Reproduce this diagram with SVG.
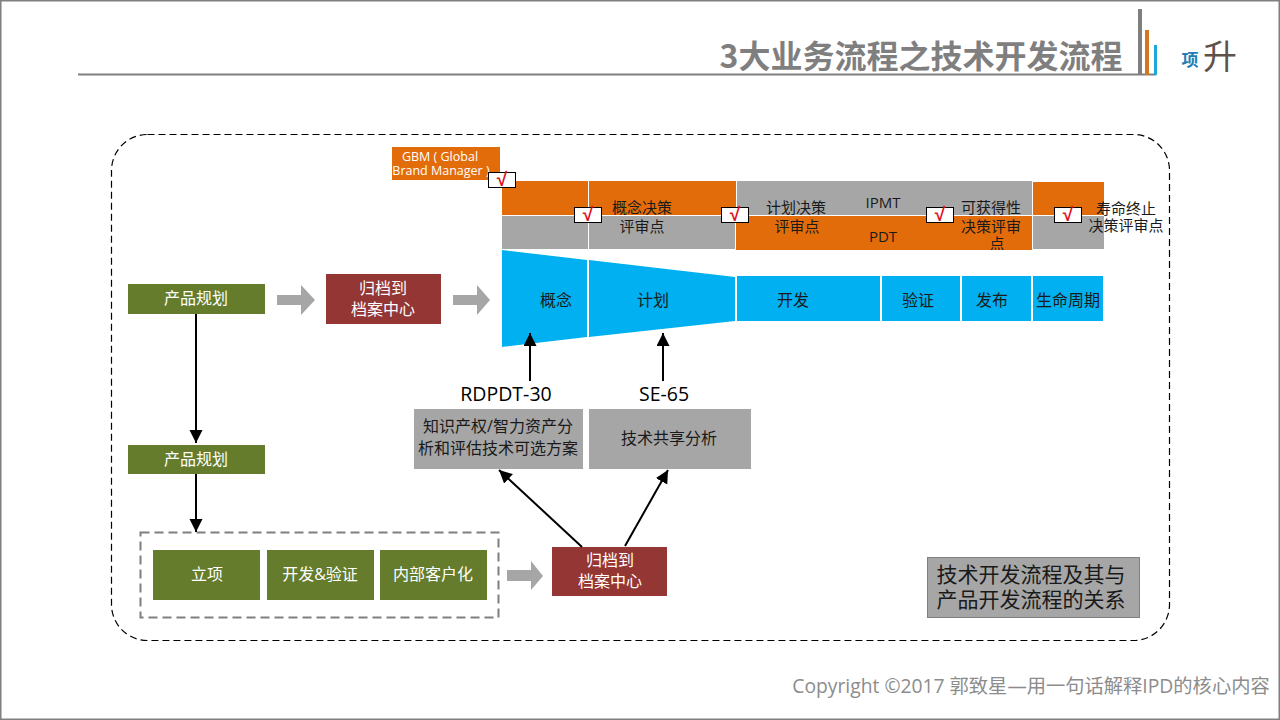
<svg xmlns="http://www.w3.org/2000/svg" width="1280" height="720" viewBox="0 0 1280 720">
<style>
text{font-family:"Open Sans","Noto Sans CJK SC",sans-serif;text-anchor:middle}
.cjk{font-family:"Noto Sans CJK SC",sans-serif}
.w{fill:#fff;font-size:16px}
.k{fill:#1a1a1a;font-size:16px}
.b{fill:#1a1a1a;font-size:15px}
.s{fill:#fff;font-size:12.500px}
.green{fill:#647c2b}
.red{fill:#943634}
.org{fill:#e36c0a}
.gray{fill:#a6a6a6}
.blue{fill:#00b0f0}
.chk{fill:#fff;stroke:#000;stroke-width:1}
.tick{fill:#e01020;font-size:19px;font-weight:bold;font-family:"Liberation Sans",sans-serif}
.conn{stroke:#000;stroke-width:2;fill:none;marker-end:url(#ah)}
</style>
<defs>
<marker id="ah" markerUnits="userSpaceOnUse" markerWidth="14" markerHeight="14" refX="13" refY="6.5" orient="auto"><path d="M0 0L13 6.500L0 13Z" fill="#000"/></marker>
<clipPath id="cut"><rect x="980" y="230" width="40" height="20"/></clipPath>
</defs>
<rect width="1280" height="720" fill="#fff"/>
<rect x="0.500" y="0.500" width="1279" height="719" fill="none" stroke="#7f7f7f" stroke-width="2"/>

<g id="header">
<text class="cjk" x="921" y="68" font-size="32" font-weight="700" fill="#7f7f7f">3大业务流程之技术开发流程</text>
<line x1="78" y1="74.500" x2="1156" y2="74.500" stroke="#7f7f7f" stroke-width="2"/>
<rect x="1138" y="9" width="4" height="66" fill="#7f7f7f"/>
<rect x="1145" y="30" width="4" height="45" fill="#d4761e"/>
<rect x="1154" y="45" width="3" height="30" fill="#1fa7dc"/>
<text class="cjk" x="1190" y="66" font-size="17" font-weight="700" fill="#1f7fb5">项</text>
<text class="cjk" x="1220" y="69" font-size="34" fill="#5f524a">升</text>
</g>

<rect id="frame" x="111.500" y="134.500" width="1058" height="506" rx="36" fill="none" stroke="#000" stroke-width="1.200" stroke-dasharray="7 4"/>

<g id="gbm"><rect class="org" x="392" y="147" width="108" height="33"/><text class="s" x="440" y="161">GBM ( Global</text><text class="s" x="441" y="175">Brand Manager )</text></g>

<g id="band-concept">
<rect class="org" x="502" y="181" width="86" height="34"/><rect class="org" x="589" y="181" width="147" height="34"/>
<rect class="gray" x="502" y="216" width="86" height="33"/><rect class="gray" x="589" y="216" width="146" height="33"/>
<text class="b" x="642" y="213">概念决策</text><text class="b" x="642" y="232">评审点</text>
</g>
<g id="band-plan">
<rect class="gray" x="737" y="181" width="295" height="34"/><rect class="org" x="736" y="216" width="296" height="34"/>
<rect class="org" x="1033" y="182" width="71" height="33"/><rect class="gray" x="1033" y="216" width="71" height="33"/>
<text class="b" x="796" y="213">计划决策</text><text class="b" x="797" y="232">评审点</text>
<text class="b" x="883" y="208">IPMT</text><text class="b" x="883" y="242">PDT</text>
<text class="b" x="991" y="213">可获得性</text><text class="b" x="991" y="232">决策评审</text>
<text class="b" x="997" y="249" clip-path="url(#cut)">点</text>
<text class="b" x="1126" y="214">寿命终止</text><text class="b" x="1126" y="231">决策评审点</text>
</g>

<g id="checks">
<rect class="chk" x="488.500" y="172.500" width="27" height="15"/><text class="tick" x="502" y="186">√</text>
<rect class="chk" x="574.500" y="207.500" width="27" height="15"/><text class="tick" x="588" y="221">√</text>
<rect class="chk" x="721.500" y="207.500" width="27" height="15"/><text class="tick" x="735" y="221">√</text>
<rect class="chk" x="926.500" y="207.500" width="27" height="15"/><text class="tick" x="940" y="221">√</text>
<rect class="chk" x="1054.500" y="207.500" width="27" height="15"/><text class="tick" x="1068" y="221">√</text>
</g>

<g id="phase-concept"><polygon class="blue" points="502,250 587,260 587,337 502,347"/><text class="k" x="556" y="306">概念</text></g>
<g id="phase-plan"><polygon class="blue" points="589,260 735,277 735,321 589,337"/><text class="k" x="653" y="306">计划</text></g>
<g id="phase-dev"><rect class="blue" x="737" y="276" width="143" height="45"/><text class="k" x="793" y="306">开发</text></g>
<g id="phase-verify"><rect class="blue" x="882" y="276" width="78" height="45"/><text class="k" x="918" y="306">验证</text></g>
<g id="phase-release"><rect class="blue" x="962" y="276" width="69" height="45"/><text class="k" x="992" y="306">发布</text></g>
<g id="phase-life"><rect class="blue" x="1033" y="276" width="70" height="45"/><text class="k" x="1068" y="306">生命周期</text></g>

<g id="plan-top"><rect class="green" x="128" y="284" width="137" height="30"/><text class="w" x="196" y="304">产品规划</text></g>
<g id="archive-top"><rect class="red" x="326" y="274" width="115" height="50"/><text class="w" x="383" y="294">归档到</text><text class="w" x="383" y="315">档案中心</text></g>
<g id="plan-mid"><rect class="green" x="128" y="445" width="137" height="29"/><text class="w" x="196" y="465">产品规划</text></g>

<rect id="tech-group" x="140.500" y="532.500" width="358" height="85" fill="none" stroke="#7f7f7f" stroke-width="2" stroke-dasharray="9 5"/>
<g id="setup"><rect class="green" x="153" y="550" width="107" height="50"/><text class="w" x="207" y="580">立项</text></g>
<g id="devtest"><rect class="green" x="267" y="550" width="107" height="50"/><text class="w" x="320" y="580">开发&amp;验证</text></g>
<g id="internal"><rect class="green" x="380" y="550" width="107" height="50"/><text class="w" x="433" y="580">内部客户化</text></g>
<g id="archive-bottom"><rect class="red" x="552" y="547" width="115" height="49"/><text class="w" x="610" y="566">归档到</text><text class="w" x="610" y="587">档案中心</text></g>

<g id="ip-analysis"><rect class="gray" x="414" y="409" width="169" height="60"/><text class="k" x="498" y="432">知识产权/智力资产分</text><text class="k" x="498" y="454">析和评估技术可选方案</text></g>
<g id="share-analysis"><rect class="gray" x="589" y="409" width="162" height="60"/><text class="k" x="669" y="444">技术共享分析</text></g>
<text x="506" y="401" font-size="19.500" fill="#000">RDPDT-30</text>
<text x="664" y="401" font-size="19.500" fill="#000">SE-65</text>

<g id="note"><rect x="927.500" y="557.500" width="212" height="60" fill="#a6a6a6" stroke="#7f7f7f"/><text x="1031" y="582" font-size="21" fill="#1a1a1a">技术开发流程及其与</text><text x="1031" y="607" font-size="21" fill="#1a1a1a">产品开发流程的关系</text></g>

<g id="connectors">
<path class="gray" d="M277 295H301V285L315 300L301 315V305H277Z"/>
<path class="gray" d="M453 295H477V285L490 300L477 315V305H453Z"/>
<path class="gray" d="M507 570H531V561L543 576L531 590V581H507Z"/>
<line class="conn" x1="196" y1="314" x2="196" y2="443"/>
<line class="conn" x1="196" y1="474" x2="196" y2="532"/>
<line class="conn" x1="530" y1="381" x2="530" y2="333"/>
<line class="conn" x1="663" y1="381" x2="663" y2="333"/>
<line class="conn" x1="582" y1="547" x2="499" y2="470"/>
<line class="conn" x1="625" y1="546" x2="668" y2="470"/>
</g>

<text id="copyright" x="1031" y="693" font-size="19.300" fill="#8c8c8c">Copyright ©2017 郭致星—用一句话解释IPD的核心内容</text>
</svg>
